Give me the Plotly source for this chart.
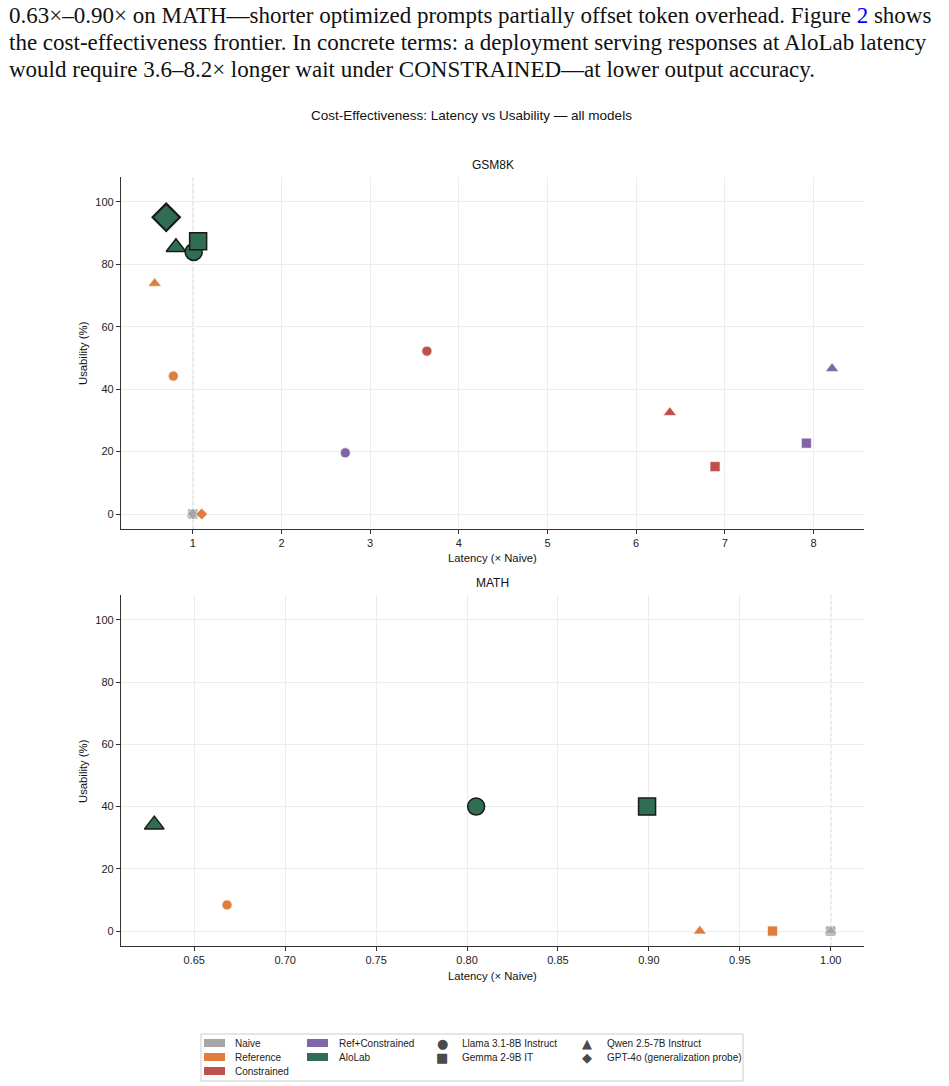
import plotly.graph_objects as go

W, H = 949, 1086

# ---------------- data ----------------
methods = ["Naive", "Reference", "Constrained", "Ref+Constrained", "AloLab"]
method_colors = ["#a6a6a6", "#e07d3c", "#c0504d", "#8165a8", "#2f6e52"]
models = ["Llama 3.1-8B Instruct", "Gemma 2-9B IT", "Qwen 2.5-7B Instruct",
          "GPT-4o (generalization probe)"]
model_symbols = ["circle", "square", "triangle-up", "diamond"]
legend_glyphs = ["●", "■", "▲", "◆"]

# GSM8K points
gsm_method = ["Naive", "Naive", "Naive", "Naive",
              "Reference", "Reference", "Reference",
              "Constrained", "Constrained", "Constrained",
              "Ref+Constrained", "Ref+Constrained", "Ref+Constrained",
              "AloLab", "AloLab", "AloLab", "AloLab"]
gsm_model = ["Llama 3.1-8B Instruct", "Gemma 2-9B IT", "Qwen 2.5-7B Instruct", "GPT-4o (generalization probe)",
             "Llama 3.1-8B Instruct", "Qwen 2.5-7B Instruct", "GPT-4o (generalization probe)",
             "Llama 3.1-8B Instruct", "Gemma 2-9B IT", "Qwen 2.5-7B Instruct",
             "Llama 3.1-8B Instruct", "Gemma 2-9B IT", "Qwen 2.5-7B Instruct",
             "Llama 3.1-8B Instruct", "Gemma 2-9B IT", "Qwen 2.5-7B Instruct", "GPT-4o (generalization probe)"]
gsm_latency = [1.00, 1.00, 1.00, 1.00,
               0.78, 0.57, 1.10,
               3.64, 6.89, 6.38,
               2.72, 7.92, 8.21,
               1.01, 1.06, 0.81, 0.70]
gsm_usability = [0.0, 0.0, 0.0, 0.0,
                 44.2, 73.9, 0.0,
                 52.2, 15.2, 32.5,
                 19.6, 22.7, 46.6,
                 84.0, 87.4, 85.5, 95.1]

# MATH points
math_method = ["Naive", "Naive", "Naive",
               "Reference", "Reference", "Reference",
               "AloLab", "AloLab", "AloLab"]
math_model = ["Llama 3.1-8B Instruct", "Gemma 2-9B IT", "Qwen 2.5-7B Instruct",
              "Llama 3.1-8B Instruct", "Gemma 2-9B IT", "Qwen 2.5-7B Instruct",
              "Llama 3.1-8B Instruct", "Gemma 2-9B IT", "Qwen 2.5-7B Instruct"]
math_latency = [1.000, 1.000, 1.000,
                0.668, 0.968, 0.928,
                0.805, 0.899, 0.628]
math_usability = [0.0, 0.0, 0.0,
                  8.4, 0.0, 0.0,
                  40.0, 40.0, 34.2]

gsm_xticks = [1, 2, 3, 4, 5, 6, 7, 8]
math_xticks = [0.65, 0.70, 0.75, 0.80, 0.85, 0.90, 0.95, 1.00]
y_ticks = [0, 20, 40, 60, 80, 100]

paragraph = [
    "0.63×–0.90× on MATH—shorter optimized prompts partially offset token overhead. Figure <span style='color:#0000ff'>2</span> shows",
    "the cost-effectiveness frontier. In concrete terms: a deployment serving responses at AloLab latency",
    "would require 3.6–8.2× longer wait under CONSTRAINED—at lower output accuracy.",
]

# ---------------- helpers ----------------
def px(x):
    return x / W


def py(y):
    return 1 - y / H


SANS = "Liberation Sans, Arial, Helvetica, sans-serif"
SERIF = "Liberation Serif, Times New Roman, serif"

small_size = {"circle": 10, "square": 10, "triangle-up": 11.5, "diamond": 9}
big_size = {"circle": 17, "square": 17, "triangle-up": 17, "diamond": 21}

fig = go.Figure()


def add_points(meths, mods, xs, ys, xa, ya):
    for m, mod, x, y in zip(meths, mods, xs, ys):
        col = method_colors[methods.index(m)]
        sym = model_symbols[models.index(mod)]
        if m == "AloLab":
            size = big_size[sym]
            line = dict(color="#1a1a1a", width=2.2 if sym == "diamond" else 1.5)
        else:
            size = small_size[sym]
            line = dict(color="white", width=0.6)
        fig.add_trace(go.Scatter(
            x=[x], y=[y], mode="markers", xaxis=xa, yaxis=ya,
            marker=dict(symbol=sym, size=size, color=col, line=line),
            showlegend=False, hoverinfo="skip"))


add_points(gsm_method, gsm_model, gsm_latency, gsm_usability, "x", "y")
add_points(math_method, math_model, math_latency, math_usability, "x2", "y2")

axis_common = dict(
    showline=True, linecolor="#333333", linewidth=1.2, mirror=False,
    ticks="outside", ticklen=4, tickwidth=1, tickcolor="#333333",
    showgrid=True, gridcolor="#ededed", gridwidth=1, zeroline=False,
    tickfont=dict(family=SANS, size=11, color="#222222"),
)

x_dom = [px(121), px(864)]
fig.update_layout(
    width=W, height=H,
    margin=dict(l=0, r=0, t=0, b=0),
    paper_bgcolor="white", plot_bgcolor="white",
    font=dict(family=SANS, color="#222222"),
    showlegend=False,
    xaxis=dict(domain=x_dom, anchor="y", range=[0.19, 8.57], tickvals=gsm_xticks, **axis_common),
    yaxis=dict(domain=[py(529), py(177)], anchor="x", range=[-4.8, 108], tickvals=y_ticks, **axis_common),
    xaxis2=dict(domain=x_dom, anchor="y2", range=[0.6097, 1.0183], tickvals=math_xticks,
                tickformat=".2f", **axis_common),
    yaxis2=dict(domain=[py(946), py(595)], anchor="x2", range=[-4.8, 108], tickvals=y_ticks, **axis_common),
)

# reference lines at naive latency
for xr, yr in (("x", "y domain"), ("x2", "y2 domain")):
    fig.add_shape(type="line", xref=xr, yref=yr, x0=1, x1=1, y0=0, y1=1,
                  line=dict(color="#8c8c8c", width=0.8, dash="dot"), layer="below")

ann = []
# paragraph text
for i, line in enumerate(paragraph):
    ann.append(dict(x=px(7), y=py(15 + i * 27), xref="paper", yref="paper",
                    xanchor="left", yanchor="middle", showarrow=False, text=line,
                    font=dict(family=SERIF, size=23, color="#111111")))
# titles
ann.append(dict(x=px(471), y=py(116), xref="paper", yref="paper", showarrow=False,
                text="Cost-Effectiveness: Latency vs Usability — all models",
                font=dict(family=SANS, size=13.5, color="#111111"), yanchor="middle"))
for t, yy in (("GSM8K", 165), ("MATH", 583)):
    ann.append(dict(x=px(492.5), y=py(yy), xref="paper", yref="paper", showarrow=False,
                    text=t, font=dict(family=SANS, size=12, color="#111111"), yanchor="middle"))
for yy in (558, 976):
    ann.append(dict(x=px(492.5), y=py(yy), xref="paper", yref="paper", showarrow=False,
                    text="Latency (× Naive)", font=dict(family=SANS, size=11.3, color="#111111"),
                    yanchor="middle"))
for yy in (353, 771):
    ann.append(dict(x=px(83), y=py(yy), xref="paper", yref="paper", showarrow=False,
                    text="Usability (%)", textangle=-90,
                    font=dict(family=SANS, size=11.3, color="#111111"),
                    xanchor="center", yanchor="middle"))

# ---------------- legend (drawn manually, 4 columns) ----------------
fig.add_shape(type="rect", xref="paper", yref="paper",
              x0=px(201), x1=px(743), y0=py(1081), y1=py(1034),
              line=dict(color="#cccccc", width=1), fillcolor="white")
rows = [1043, 1057, 1071]
col_patch_x = [204, 307]
col_label_x = [233, 337]
for i, (m, c) in enumerate(zip(methods, method_colors)):
    col = 0 if i < 3 else 1
    row = i if i < 3 else i - 3
    yc = rows[row]
    fig.add_shape(type="rect", xref="paper", yref="paper",
                  x0=px(col_patch_x[col]), x1=px(col_patch_x[col] + 21),
                  y0=py(yc + 4), y1=py(yc - 4), line=dict(width=0), fillcolor=c)
    ann.append(dict(x=px(col_label_x[col]), y=py(yc), xref="paper", yref="paper",
                    showarrow=False, text=m, xanchor="left", yanchor="middle",
                    font=dict(family=SANS, size=10, color="#222222")))
glyph_x = [442, 587]
glabel_x = [460, 605]
for i, (mod, g) in enumerate(zip(models, legend_glyphs)):
    col = i // 2
    row = i % 2
    yc = rows[row]
    ann.append(dict(x=px(glyph_x[col]), y=py(yc), xref="paper", yref="paper",
                    showarrow=False, text=g, xanchor="center", yanchor="middle",
                    font=dict(family="DejaVu Sans", size=13, color="#4a4a4a")))
    ann.append(dict(x=px(glabel_x[col]), y=py(yc), xref="paper", yref="paper",
                    showarrow=False, text=mod, xanchor="left", yanchor="middle",
                    font=dict(family=SANS, size=10, color="#222222")))

fig.update_layout(annotations=ann)
fig.write_html("out.html")
